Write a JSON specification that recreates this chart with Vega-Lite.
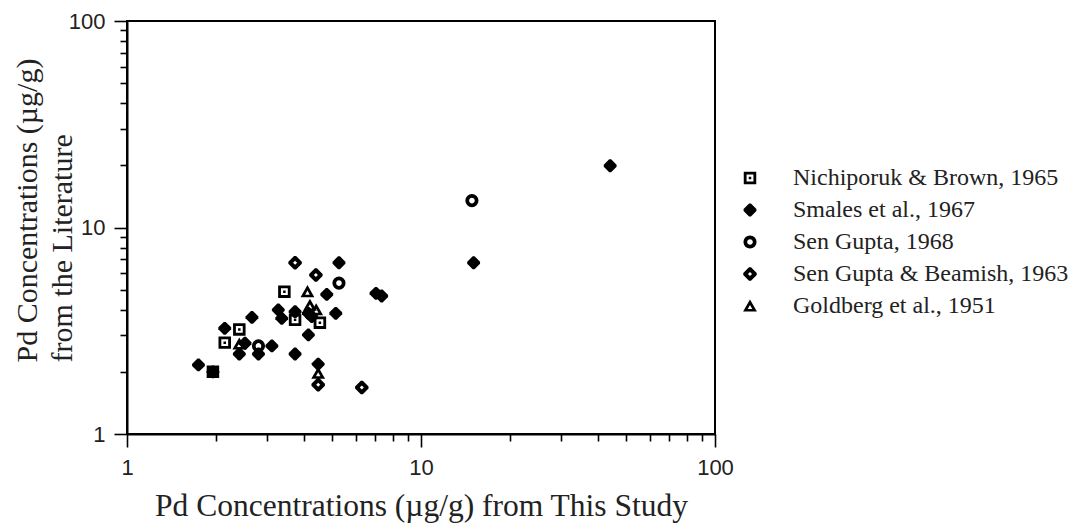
{
  "$schema": "https://vega.github.io/schema/vega-lite/v6.json",
  "width": 588,
  "height": 413,
  "autosize": {"type": "none"},
  "padding": {"left": 127, "top": 21, "right": 366, "bottom": 92},
  "background": "white",
  "config": {
    "view": {"stroke": "black", "strokeWidth": 2},
    "axis": {
      "domainColor": "black",
      "domainWidth": 2,
      "tickColor": "black",
      "tickWidth": 1.6,
      "grid": false,
      "labelFont": "Liberation Sans",
      "labelFontSize": 22,
      "labelColor": "#222",
      "labelOverlap": false,
      "labelFlush": false,
      "labelBound": false,
      "titleFont": "Liberation Serif",
      "titleFontWeight": "normal",
      "titleColor": "#222"
    },
    "legend": {
      "orient": "none",
      "legendX": 611,
      "legendY": 145,
      "labelFont": "Liberation Serif",
      "labelFontSize": 24,
      "labelColor": "#222",
      "labelLimit": 400,
      "labelOffset": 31,
      "rowPadding": 8,
      "padding": 0
    }
  },
  "data": {
    "values": [
      {"x": 44, "y": 19.9, "source": "Smales et al., 1967"},
      {"x": 15.1, "y": 6.75, "source": "Smales et al., 1967"},
      {"x": 5.26, "y": 6.75, "source": "Smales et al., 1967"},
      {"x": 4.78, "y": 4.74, "source": "Smales et al., 1967"},
      {"x": 5.13, "y": 3.84, "source": "Smales et al., 1967"},
      {"x": 3.27, "y": 3.99, "source": "Smales et al., 1967"},
      {"x": 3.36, "y": 3.63, "source": "Smales et al., 1967"},
      {"x": 3.73, "y": 3.91, "source": "Smales et al., 1967"},
      {"x": 4.14, "y": 3.84, "source": "Smales et al., 1967"},
      {"x": 4.25, "y": 3.7, "source": "Smales et al., 1967"},
      {"x": 2.66, "y": 3.67, "source": "Smales et al., 1967"},
      {"x": 4.14, "y": 3.02, "source": "Smales et al., 1967"},
      {"x": 3.73, "y": 2.44, "source": "Smales et al., 1967"},
      {"x": 2.15, "y": 3.25, "source": "Smales et al., 1967"},
      {"x": 2.52, "y": 2.75, "source": "Smales et al., 1967"},
      {"x": 2.41, "y": 2.44, "source": "Smales et al., 1967"},
      {"x": 2.8, "y": 2.44, "source": "Smales et al., 1967"},
      {"x": 3.11, "y": 2.67, "source": "Smales et al., 1967"},
      {"x": 1.75, "y": 2.16, "source": "Smales et al., 1967"},
      {"x": 4.47, "y": 2.18, "source": "Smales et al., 1967"},
      {"x": 7.03, "y": 4.8, "source": "Smales et al., 1967"},
      {"x": 7.35, "y": 4.66, "source": "Smales et al., 1967"},
      {"x": 3.73, "y": 6.75, "source": "Sen Gupta & Beamish, 1963"},
      {"x": 4.39, "y": 5.89, "source": "Sen Gupta & Beamish, 1963"},
      {"x": 4.47, "y": 1.73, "source": "Sen Gupta & Beamish, 1963"},
      {"x": 6.29, "y": 1.68, "source": "Sen Gupta & Beamish, 1963"},
      {"x": 3.43, "y": 4.89, "source": "Nichiporuk & Brown, 1965"},
      {"x": 3.73, "y": 3.57, "source": "Nichiporuk & Brown, 1965"},
      {"x": 4.53, "y": 3.46, "source": "Nichiporuk & Brown, 1965"},
      {"x": 2.41, "y": 3.21, "source": "Nichiporuk & Brown, 1965"},
      {"x": 2.15, "y": 2.77, "source": "Nichiporuk & Brown, 1965"},
      {"x": 1.96, "y": 2.0, "source": "Nichiporuk & Brown, 1965"},
      {"x": 1.96, "y": 2.0, "source": "Smales et al., 1967"},
      {"x": 4.11, "y": 4.89, "source": "Goldberg et al., 1951"},
      {"x": 4.19, "y": 4.2, "source": "Goldberg et al., 1951"},
      {"x": 4.4, "y": 4.0, "source": "Goldberg et al., 1951"},
      {"x": 2.41, "y": 2.73, "source": "Goldberg et al., 1951"},
      {"x": 4.47, "y": 1.97, "source": "Goldberg et al., 1951"},
      {"x": 14.9, "y": 13.5, "source": "Sen Gupta, 1968"},
      {"x": 5.26, "y": 5.38, "source": "Sen Gupta, 1968"},
      {"x": 2.8, "y": 2.67, "source": "Sen Gupta, 1968"}
    ]
  },
  "mark": {"type": "point", "filled": true, "color": "black", "strokeWidth": 0, "opacity": 1},
  "encoding": {
    "x": {
      "field": "x",
      "type": "quantitative",
      "scale": {"type": "log", "domain": [1, 100], "nice": false},
      "axis": {
        "values": [1, 2, 3, 4, 5, 6, 7, 8, 9, 10, 20, 30, 40, 50, 60, 70, 80, 90, 100],
        "labelExpr": "datum.value == 1 || datum.value == 10 || datum.value == 100 ? datum.value + '' : ''",
        "tickSize": {"condition": {"test": "datum.value == 1 || datum.value == 10 || datum.value == 100", "value": 13}, "value": 7},
        "labelPadding": 10,
        "title": "Pd Concentrations (µg/g) from This Study",
        "titleFontSize": 31.5,
        "titleBaseline": "alphabetic",
        "titleAlign": "center",
        "titleX": 294,
        "titleY": 81
      }
    },
    "y": {
      "field": "y",
      "type": "quantitative",
      "scale": {"type": "log", "domain": [1, 100], "nice": false},
      "axis": {
        "values": [1, 2, 3, 4, 5, 6, 7, 8, 9, 10, 20, 30, 40, 50, 60, 70, 80, 90, 100],
        "labelExpr": "datum.value == 1 || datum.value == 10 || datum.value == 100 ? datum.value + '' : ''",
        "tickSize": {"condition": {"test": "datum.value == 1 || datum.value == 10 || datum.value == 100", "value": 13}, "value": 7},
        "labelPadding": 9,
        "title": ["Pd Concentrations (µg/g)", "from the Literature"],
        "titleFontSize": 30,
        "titleAngle": 270,
        "titleAlign": "left",
        "titleBaseline": "alphabetic",
        "titleLineHeight": 35,
        "titleX": -91,
        "titleY": 341
      }
    },
    "shape": {
      "field": "source",
      "type": "nominal",
      "scale": {
        "domain": ["Nichiporuk & Brown, 1965", "Smales et al., 1967", "Sen Gupta, 1968", "Sen Gupta & Beamish, 1963", "Goldberg et al., 1951"],
        "range": [
          "M-1,-1L1,-1L1,1L-1,1Z M-0.55,-0.55L-0.55,0.55L0.55,0.55L0.55,-0.55Z M-0.2,-0.2L0.2,-0.2L0.2,0.2L-0.2,0.2Z",
          "M-1,-0.15L-0.15,-1L0.15,-1L1,-0.15L1,0.15L0.15,1L-0.15,1L-1,0.15Z",
          "M1,0L0.924,0.383L0.707,0.707L0.383,0.924L0,1L-0.383,0.924L-0.707,0.707L-0.924,0.383L-1,0L-0.924,-0.383L-0.707,-0.707L-0.383,-0.924L0,-1L0.383,-0.924L0.707,-0.707L0.924,-0.383Z M0.43,0L0.397,-0.165L0.304,-0.304L0.165,-0.397L0,-0.43L-0.165,-0.397L-0.304,-0.304L-0.397,-0.165L-0.43,0L-0.397,0.165L-0.304,0.304L-0.165,0.397L0,0.43L0.165,0.397L0.304,0.304L0.397,0.165Z",
          "M-1,-0.15L-0.15,-1L0.15,-1L1,-0.15L1,0.15L0.15,1L-0.15,1L-1,0.15Z M-0.3,0L0,0.3L0.3,0L0,-0.3Z",
          "M0,-0.95L1,0.8L-1,0.8Z M0,-0.15L-0.33,0.45L0.33,0.45Z"
        ]
      },
      "legend": {"title": null}
    },
    "size": {
      "field": "source",
      "type": "nominal",
      "scale": {
        "domain": ["Nichiporuk & Brown, 1965", "Smales et al., 1967", "Sen Gupta, 1968", "Sen Gupta & Beamish, 1963", "Goldberg et al., 1951"],
        "range": [156, 190, 190, 182, 144]
      },
      "legend": {"title": null}
    }
  }
}
